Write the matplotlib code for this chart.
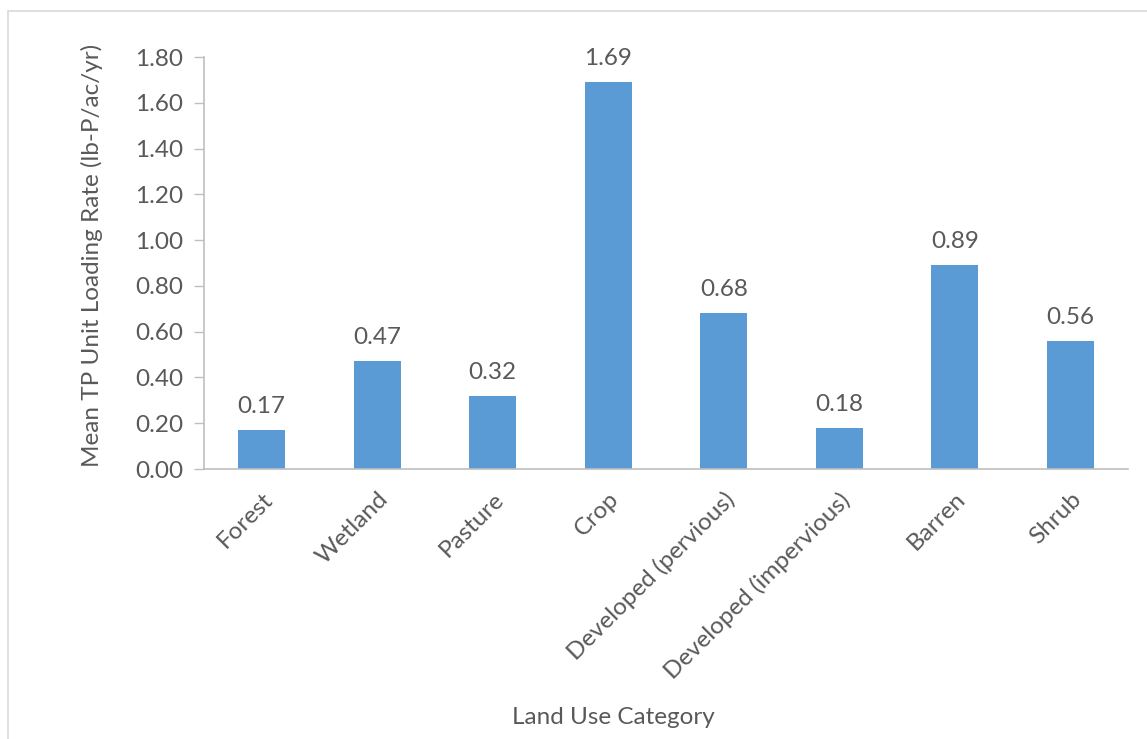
import matplotlib

matplotlib.use("Agg")
import matplotlib.pyplot as plt
from matplotlib.patches import Rectangle

# Mean total phosphorus unit loading rate by land use
categories = ["Forest", "Wetland", "Pasture", "Crop", "Developed (pervious)",
              "Developed (impervious)", "Barren", "Shrub"]
tp_rates = [0.17, 0.47, 0.32, 1.69, 0.68, 0.18, 0.89, 0.56]
y_ticks = [0.0, 0.2, 0.4, 0.6, 0.8, 1.0, 1.2, 1.4, 1.6, 1.8]

TEXT = "#595959"
GRID = "#BFBFBF"
BAR = "#5B9BD5"
FS = 17.5

plt.rcParams["font.family"] = ["Lato", "DejaVu Sans"]

fig = plt.figure(figsize=(11.47, 7.39), dpi=100)
# chart-area frame (runs off the right and bottom edges)
fig.patches.append(Rectangle((8 / 1147, -0.1), 1.2, 1 - 11 / 739 + 0.1,
                             transform=fig.transFigure, fill=False,
                             edgecolor="#D9D9D9", lw=1.2))

ax = fig.add_axes([204 / 1147, 1 - 469 / 739, 924 / 1147, 412 / 739])
x = range(len(categories))
bars = ax.bar(x, tp_rates, width=0.41, color=BAR, zorder=2)
for b, v in zip(bars, tp_rates):
    ax.annotate(f"{v:.2f}", (b.get_x() + b.get_width() / 2, v),
                xytext=(0, 9.5), textcoords="offset points",
                ha="center", va="bottom", fontsize=FS, color=TEXT)

ax.set_xlim(-0.5, len(categories) - 0.5)
ax.set_ylim(0, 1.8)
ax.set_yticks(y_ticks)
ax.set_yticklabels([f"{t:.2f}" for t in y_ticks])
ax.set_xticks(list(x))
ax.set_xticklabels(categories, rotation=45, ha="right", rotation_mode="anchor")

for side in ("top", "right"):
    ax.spines[side].set_visible(False)
for side in ("left", "bottom"):
    ax.spines[side].set_color(GRID)
    ax.spines[side].set_linewidth(1.2)
ax.tick_params(axis="y", length=7, width=1, color=GRID, labelsize=FS,
               labelcolor=TEXT, pad=8)
ax.tick_params(axis="x", length=0, labelsize=FS, labelcolor=TEXT, pad=14)

fig.text(92 / 1147, 1 - 255 / 739, "Mean TP Unit Loading Rate (lb-P/ac/yr)",
         rotation=90, ha="center", va="center", fontsize=FS, color=TEXT)
fig.text(613 / 1147, 1 - 717 / 739, "Land Use Category", ha="center",
         va="center", fontsize=FS, color=TEXT)

fig.savefig("out.png", dpi=100, facecolor="white")
